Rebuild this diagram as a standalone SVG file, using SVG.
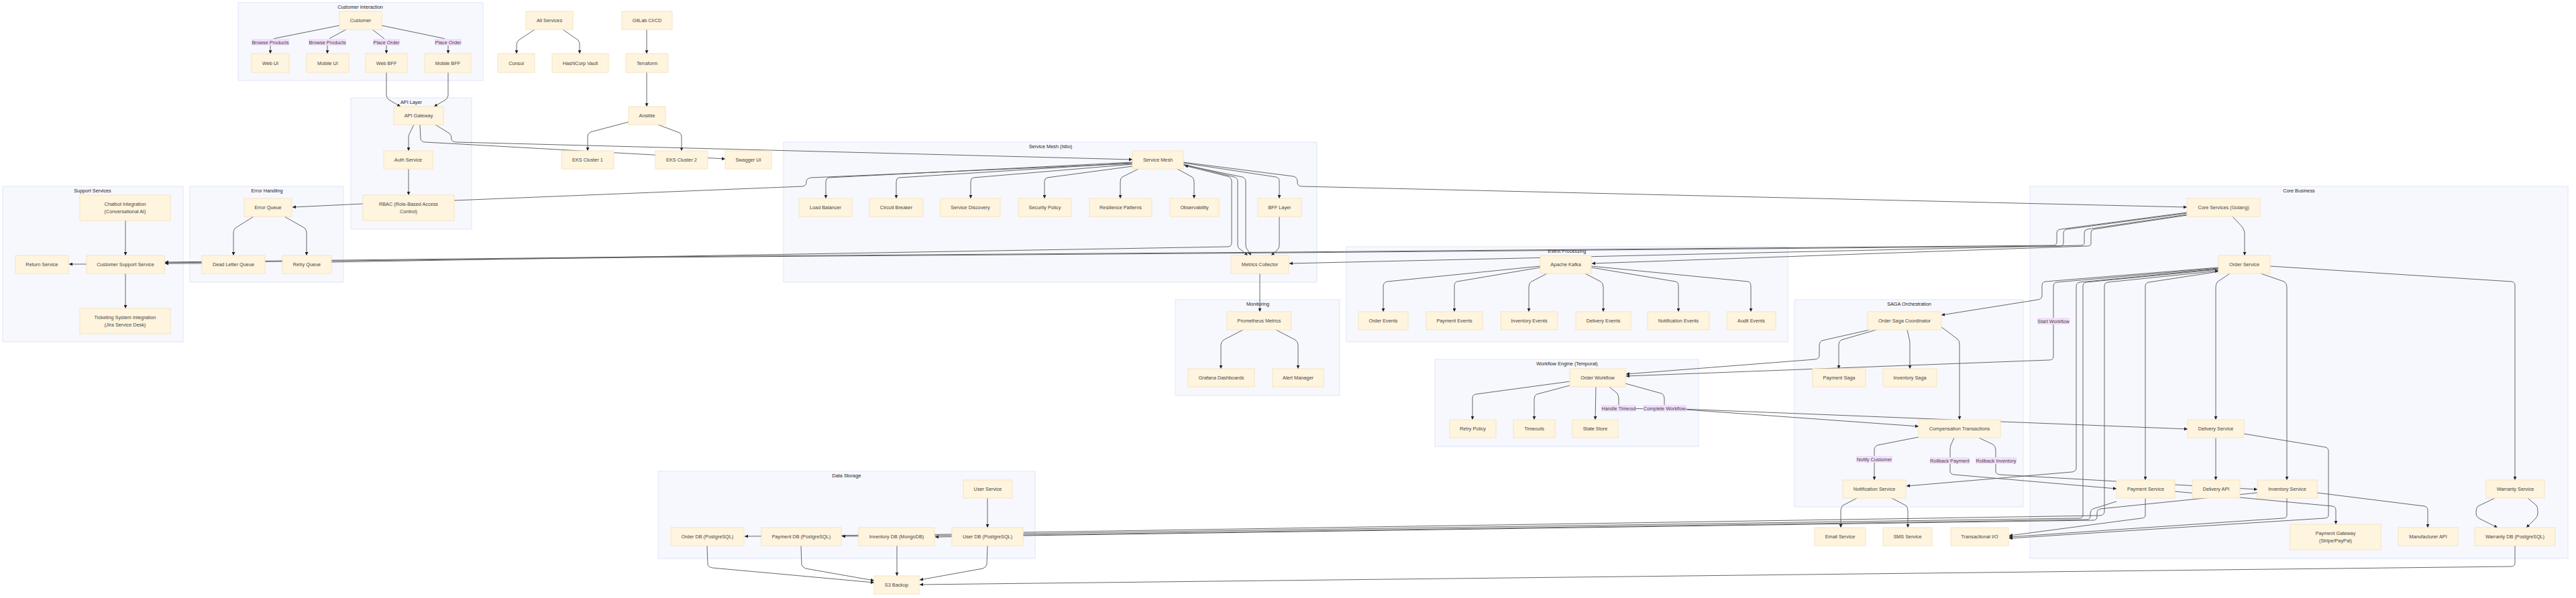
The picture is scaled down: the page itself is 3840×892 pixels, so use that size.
<svg xmlns="http://www.w3.org/2000/svg" width="3840" height="892" viewBox="0 0 3840 892">
<style>
.cl{fill:#f7f8fd;stroke:#dde6f8;stroke-width:1}
.ct{font-family:"Liberation Sans",Arial,sans-serif;font-size:7.3px;fill:#222;text-anchor:middle}
.nd rect{fill:#fff4de;stroke:#f4e4c0;stroke-width:1}
.nd text{font-family:"Liberation Sans",Arial,sans-serif;font-size:7.3px;fill:#444;text-anchor:middle}
.e{fill:none;stroke:#555;stroke-width:0.9}
.ea{fill:none;stroke:#555;stroke-width:0.9;marker-end:url(#ar)}
.lb rect{fill:#f2defb}
.lb text{font-family:"Liberation Sans",Arial,sans-serif;font-size:7.3px;fill:#444;text-anchor:middle}
</style>
<defs>
<marker id="ar" viewBox="0 0 10 10" refX="10" refY="5" markerWidth="5" markerHeight="5" markerUnits="userSpaceOnUse" orient="auto"><path d="M0,0 L10,5 L0,10 z" fill="#222"/></marker>
</defs>
<rect width="3840" height="892" fill="#ffffff"/>
<g id="clusters">
<rect class="cl" x="355" y="4" width="365" height="116"/><text class="ct" x="537" y="12.5">Customer Interaction</text>
<rect class="cl" x="523" y="146" width="180" height="196"/><text class="ct" x="613" y="154.5">API Layer</text>
<rect class="cl" x="4" y="278" width="269" height="232"/><text class="ct" x="138" y="286.5">Support Services</text>
<rect class="cl" x="283" y="278" width="229" height="143"/><text class="ct" x="398" y="286.5">Error Handling</text>
<rect class="cl" x="1168" y="212" width="795" height="209"/><text class="ct" x="1566" y="220.5">Service Mesh (Istio)</text>
<rect class="cl" x="2007" y="368" width="658" height="142"/><text class="ct" x="2336" y="376.5">Event Processing</text>
<rect class="cl" x="1752" y="447" width="245" height="143"/><text class="ct" x="1875" y="455.5">Monitoring</text>
<rect class="cl" x="981" y="703" width="562" height="130"/><text class="ct" x="1262" y="711.5">Data Storage</text>
<rect class="cl" x="2139" y="536" width="393" height="130"/><text class="ct" x="2336" y="544.5">Workflow Engine (Temporal)</text>
<rect class="cl" x="2675" y="447" width="341" height="309"/><text class="ct" x="2846" y="455.5">SAGA Orchestration</text>
<rect class="cl" x="3026" y="278" width="802" height="555"/><text class="ct" x="3427" y="286.5">Core Business</text>
</g>
<g id="connectors">
<path class="ea" d="M506 38 L411 57 Q403 59 403 65 L403 80"/>
<path class="ea" d="M516 44 L492 57 Q488 60 488 66 L488 80"/>
<path class="ea" d="M555 44 L572 57 Q576 60 576 66 L576 80"/>
<path class="ea" d="M569 38 L660 57 Q668 59 668 65 L668 80"/>
<path class="ea" d="M576 108 L576 142 Q576 146 580 149 L597 159"/>
<path class="ea" d="M668 108 L668 142 Q668 146 664 149 L647 159"/>
<path class="ea" d="M797 44 L773 60 Q770 63 770 67 L770 80"/>
<path class="ea" d="M839 44 L862 60 Q864 63 864 67 L864 80"/>
<path class="ea" d="M964 44 L964 80"/>
<path class="ea" d="M964 108 L964 159"/>
<path class="ea" d="M937 182 L880 197 Q876 199 876 204 L876 225"/>
<path class="ea" d="M981 186 L1013 198 Q1016 200 1016 205 L1016 225"/>
<path class="ea" d="M617 186 L610 200 Q609 202 609 206 L609 225"/>
<path class="ea" d="M609 252 L609 291"/>
<path class="ea" d="M626 186 L627 207 Q628 212 634 212 L1081 237"/>
<path class="ea" d="M649 186 L670 199 Q673 202 673 206 L673 208 Q674 212 680 212 L1688 238"/>
<path class="ea" d="M541 304 L436 309"/>
<path class="e" d="M677 299 L1196 278 Q1202 277 1202 272 L1202 270 Q1203 266 1209 265 L1688 244"/>
<path class="ea" d="M378 323 L351 340 Q348 343 348 347 L348 381"/>
<path class="ea" d="M424 323 L454 340 Q457 343 457 347 L457 381"/>
<path class="ea" d="M301 393 L246 393"/>
<path class="ea" d="M187 329 L187 381"/>
<path class="ea" d="M129 394 L103 394"/>
<path class="ea" d="M187 408 L187 460"/>
<path class="ea" d="M1688 242 L1235 265 Q1231 266 1231 271 L1231 296"/>
<path class="ea" d="M1688 243 L1340 265 Q1336 266 1336 271 L1336 296"/>
<path class="ea" d="M1688 245 L1451 265 Q1447 266 1447 271 L1447 296"/>
<path class="ea" d="M1688 248 L1561 265 Q1557 266 1557 271 L1557 296"/>
<path class="ea" d="M1697 252 L1673 264 Q1670 266 1670 271 L1670 296"/>
<path class="ea" d="M1755 252 L1777 264 Q1780 266 1780 271 L1780 296"/>
<path class="ea" d="M1764 243 L1902 264 Q1907 265 1907 270 L1907 296"/>
<path class="ea" d="M1764 245 L1840 264 Q1845 266 1845 271 L1845 366 Q1845 370 1849 372 L1860 381"/>
<path class="ea" d="M1764 246 L1852 264 Q1857 266 1857 271 L1857 366 Q1857 370 1860 373 L1865 381"/>
<path class="ea" d="M1907 323 L1907 366 Q1907 370 1904 373 L1895 381"/>
<path class="ea" d="M494 391 L1831 368 Q1836 367 1836 362 L1836 270 Q1836 265 1830 263 L1766 247"/>
<path class="ea" d="M1764 242 L1928 263 Q1934 265 1934 270 L1934 273 Q1935 278 1941 278 L3260 309"/>
<path class="ea" d="M1878 408 L1878 465"/>
<path class="ea" d="M1853 492 L1824 507 Q1820 510 1820 515 L1820 550"/>
<path class="ea" d="M1902 492 L1931 507 Q1935 510 1935 515 L1935 550"/>
<path class="ea" d="M3260 321 L3121 342 Q3117 343 3117 348 L3117 363 Q3117 367 3112 367 L2373 393"/>
<path class="ea" d="M3260 320 L3111 342 Q3107 343 3107 348 L3107 362 Q3107 366 3102 366 L1922 393"/>
<path class="ea" d="M3260 318 L3081 342 Q3076 343 3076 348 L3076 362 Q3076 367 3070 367 L1920 377 L960 384 L246 392"/>
<path class="ea" d="M3260 317 L3071 342 Q3066 343 3066 348 L3066 361 Q3066 366 3060 366 L1920 376 L960 383 L246 391"/>
<path class="ea" d="M2296 397 L2068 420 Q2062 421 2062 427 L2062 465"/>
<path class="ea" d="M2296 399 L2172 420 Q2168 421 2168 427 L2168 465"/>
<path class="ea" d="M2306 408 L2283 420 Q2279 422 2279 428 L2279 465"/>
<path class="ea" d="M2363 408 L2386 420 Q2390 422 2390 428 L2390 465"/>
<path class="ea" d="M2372 399 L2498 420 Q2502 421 2502 427 L2502 465"/>
<path class="ea" d="M2372 397 L2606 420 Q2610 421 2610 427 L2610 465"/>
<path class="ea" d="M2340 569 L2200 588 Q2195 589 2195 594 L2195 626"/>
<path class="ea" d="M2340 575 L2291 588 Q2287 590 2287 595 L2287 626"/>
<path class="ea" d="M2379 577 L2378 626"/>
<path class="ea" d="M2399 577 L2411 587 Q2413 590 2413 595 L2413 609 L2513 611 L2860 636"/>
<path class="ea" d="M2423 572 L2477 587 Q2481 589 2481 594 L2481 609 L3261 640"/>
<path class="ea" d="M2797 492 L2745 507 Q2741 509 2741 514 L2741 550"/>
<path class="ea" d="M2843 492 L2846 505 Q2847 509 2847 514 L2847 550"/>
<path class="ea" d="M2787 492 L2716 508 Q2712 510 2712 515 L2712 530 Q2712 535 2706 536 L2424 558"/>
<path class="ea" d="M2893 487 L2917 505 Q2921 508 2921 513 L2921 626"/>
<path class="ea" d="M2860 652 L2799 664 Q2794 666 2794 671 L2794 716"/>
<path class="ea" d="M2913 653 L2908 664 Q2907 667 2907 672 L2907 703 Q2907 707 2913 708 L3155 729"/>
<path class="ea" d="M2950 653 L2971 663 Q2975 666 2975 671 L2975 703 Q2975 707 2981 708 L3365 730"/>
<path class="ea" d="M2768 743 L2747 754 Q2744 757 2744 762 L2744 787"/>
<path class="ea" d="M2820 743 L2841 754 Q2844 757 2844 762 L2844 787"/>
<path class="ea" d="M3328 323 L3342 338 Q3346 343 3346 348 L3346 381"/>
<path class="ea" d="M3307 399 L3049 420 Q3044 421 3044 426 L3044 441 Q3044 446 3038 447 L2894 470"/>
<path class="ea" d="M3307 400 L3066 421 Q3061 422 3061 427 L3061 532 Q3061 537 3055 537 L2424 561"/>
<path class="ea" d="M3307 401 L3100 421 Q3095 422 3095 427 L3095 698 Q3095 703 3089 704 L2842 725"/>
<path class="ea" d="M3307 402 L3110 421 Q3105 422 3105 427 L3105 768 Q3105 773 3099 773 L1525 796 L1110 800"/>
<path class="ea" d="M1526 794 L3131 769 Q3137 768 3137 763 L3137 427 Q3137 422 3142 421 L3307 404"/>
<path class="ea" d="M3308 405 L3203 421 Q3198 422 3198 427 L3198 716"/>
<path class="ea" d="M3324 408 L3306 420 Q3303 423 3303 428 L3303 626"/>
<path class="ea" d="M3370 408 L3405 420 Q3409 423 3409 428 L3409 716"/>
<path class="ea" d="M3384 397 L3744 420 Q3749 421 3749 426 L3749 716"/>
<path class="ea" d="M3303 653 L3303 716"/>
<path class="ea" d="M3345 647 L3466 667 Q3471 668 3471 673 L3471 768 Q3471 773 3465 773 L2995 803"/>
<path class="ea" d="M3198 743 L3198 768 Q3198 773 3192 773 L2995 799"/>
<path class="ea" d="M3409 743 L3409 768 Q3409 773 3403 773 L2995 801"/>
<path class="ea" d="M3155 748 L3120 759 Q3116 761 3116 766 L3116 770 Q3116 775 3110 775 L1525 798 L1255 800"/>
<path class="ea" d="M3365 735 L3131 759 Q3126 760 3126 765 L3126 771 Q3126 776 3120 776 L1525 799 L1394 801"/>
<path class="ea" d="M3242 733 L3477 755 Q3482 756 3482 761 L3482 782"/>
<path class="ea" d="M3454 735 L3614 755 Q3619 756 3619 761 L3619 787"/>
<path class="ea" d="M3719 743 L3694 755 Q3691 758 3691 763 L3691 766 Q3691 770 3695 773 L3723 787"/>
<path class="ea" d="M3768 743 L3781 754 Q3783 757 3783 762 L3783 766 Q3783 770 3780 773 L3766 787"/>
<path class="ea" d="M3749 814 L3749 840 Q3749 845 3743 845 L1371 872"/>
<path class="ea" d="M1472 743 L1472 787"/>
<path class="ea" d="M1054 814 L1055 842 Q1056 846 1062 847 L1303 869"/>
<path class="ea" d="M1194 814 L1195 842 Q1196 846 1201 848 L1303 866"/>
<path class="ea" d="M1337 814 L1337 859"/>
<path class="ea" d="M1472 814 L1471 842 Q1470 846 1465 848 L1371 865"/>
</g>
<g id="n-customer" class="nd"><rect x="506" y="17" width="63" height="27"/><text x="537.5" y="33">Customer</text></g>
<g id="n-webui" class="nd"><rect x="375" y="80" width="56" height="28"/><text x="403" y="96.5">Web UI</text></g>
<g id="n-mobileui" class="nd"><rect x="457" y="80" width="63" height="28"/><text x="488.5" y="96.5">Mobile UI</text></g>
<g id="n-webbff" class="nd"><rect x="545" y="80" width="62" height="28"/><text x="576" y="96.5">Web BFF</text></g>
<g id="n-mobilebff" class="nd"><rect x="633" y="80" width="69" height="28"/><text x="667.5" y="96.5">Mobile BFF</text></g>
<g id="n-allservices" class="nd"><rect x="784" y="17" width="70" height="27"/><text x="819" y="33">All Services</text></g>
<g id="n-consul" class="nd"><rect x="742" y="80" width="55" height="28"/><text x="769.5" y="96.5">Consul</text></g>
<g id="n-vault" class="nd"><rect x="823" y="80" width="84" height="28"/><text x="865" y="96.5">HashiCorp Vault</text></g>
<g id="n-gitlab" class="nd"><rect x="927" y="17" width="75" height="27"/><text x="964.5" y="33">GitLab CI/CD</text></g>
<g id="n-terraform" class="nd"><rect x="933" y="80" width="63" height="28"/><text x="964.5" y="96.5">Terraform</text></g>
<g id="n-ansible" class="nd"><rect x="937" y="159" width="55" height="27"/><text x="964.5" y="175">Ansible</text></g>
<g id="n-apigw" class="nd"><rect x="587" y="159" width="74" height="27"/><text x="624" y="175">API Gateway</text></g>
<g id="n-auth" class="nd"><rect x="572" y="225" width="73" height="27"/><text x="608.5" y="241">Auth Service</text></g>
<g id="n-rbac" class="nd"><rect x="541" y="291" width="136" height="38"/><text x="609" y="306.8">RBAC (Role-Based Access</text><text x="609" y="317.8">Control)</text></g>
<g id="n-eks1" class="nd"><rect x="837" y="225" width="78" height="27"/><text x="876" y="241">EKS Cluster 1</text></g>
<g id="n-eks2" class="nd"><rect x="977" y="225" width="78" height="27"/><text x="1016" y="241">EKS Cluster 2</text></g>
<g id="n-swagger" class="nd"><rect x="1081" y="225" width="69" height="27"/><text x="1115.5" y="241">Swagger UI</text></g>
<g id="n-chatbot" class="nd"><rect x="119" y="291" width="135" height="38"/><text x="186.5" y="306.8">Chatbot Integration</text><text x="186.5" y="317.8">(Conversational AI)</text></g>
<g id="n-return" class="nd"><rect x="23" y="381" width="79" height="27"/><text x="62.5" y="397">Return Service</text></g>
<g id="n-css" class="nd"><rect x="129" y="381" width="116" height="27"/><text x="187" y="397">Customer Support Service</text></g>
<g id="n-ticketing" class="nd"><rect x="119" y="460" width="135" height="38"/><text x="186.5" y="476.2">Ticketing System Integration</text><text x="186.5" y="487.2">(Jira Service Desk)</text></g>
<g id="n-errorq" class="nd"><rect x="364" y="296" width="71" height="27"/><text x="399.5" y="312">Error Queue</text></g>
<g id="n-dlq" class="nd"><rect x="301" y="381" width="94" height="27"/><text x="348" y="397">Dead Letter Queue</text></g>
<g id="n-retryq" class="nd"><rect x="421" y="381" width="73" height="27"/><text x="457.5" y="397">Retry Queue</text></g>
<g id="n-servicemesh" class="nd"><rect x="1688" y="225" width="76" height="27"/><text x="1726" y="241">Service Mesh</text></g>
<g id="n-lb" class="nd"><rect x="1191" y="296" width="79" height="27"/><text x="1230.5" y="312">Load Balancer</text></g>
<g id="n-cb" class="nd"><rect x="1296" y="296" width="80" height="27"/><text x="1336" y="312">Circuit Breaker</text></g>
<g id="n-sd" class="nd"><rect x="1402" y="296" width="89" height="27"/><text x="1446.5" y="312">Service Discovery</text></g>
<g id="n-sp" class="nd"><rect x="1518" y="296" width="79" height="27"/><text x="1557.5" y="312">Security Policy</text></g>
<g id="n-rp" class="nd"><rect x="1624" y="296" width="93" height="27"/><text x="1670.5" y="312">Resilience Patterns</text></g>
<g id="n-obs" class="nd"><rect x="1744" y="296" width="73" height="27"/><text x="1780.5" y="312">Observability</text></g>
<g id="n-bff" class="nd"><rect x="1875" y="296" width="65" height="27"/><text x="1907.5" y="312">BFF Layer</text></g>
<g id="n-metrics" class="nd"><rect x="1835" y="381" width="86" height="27"/><text x="1878" y="397">Metrics Collector</text></g>
<g id="n-prom" class="nd"><rect x="1829" y="465" width="96" height="27"/><text x="1877" y="481">Prometheus Metrics</text></g>
<g id="n-grafana" class="nd"><rect x="1771" y="550" width="99" height="27"/><text x="1820.5" y="566">Grafana Dashboards</text></g>
<g id="n-alert" class="nd"><rect x="1897" y="550" width="76" height="27"/><text x="1935" y="566">Alert Manager</text></g>
<g id="n-kafka" class="nd"><rect x="2296" y="381" width="76" height="27"/><text x="2334" y="397">Apache Kafka</text></g>
<g id="n-orderevents" class="nd"><rect x="2025" y="465" width="74" height="27"/><text x="2062" y="481">Order Events</text></g>
<g id="n-paymentevents" class="nd"><rect x="2126" y="465" width="84" height="27"/><text x="2168" y="481">Payment Events</text></g>
<g id="n-inventoryevents" class="nd"><rect x="2237" y="465" width="85" height="27"/><text x="2279.5" y="481">Inventory Events</text></g>
<g id="n-deliveryevents" class="nd"><rect x="2349" y="465" width="82" height="27"/><text x="2390" y="481">Delivery Events</text></g>
<g id="n-notificationevents" class="nd"><rect x="2456" y="465" width="92" height="27"/><text x="2502" y="481">Notification Events</text></g>
<g id="n-auditevents" class="nd"><rect x="2574" y="465" width="73" height="27"/><text x="2610.5" y="481">Audit Events</text></g>
<g id="n-userservice" class="nd"><rect x="1436" y="716" width="73" height="27"/><text x="1472.5" y="732">User Service</text></g>
<g id="n-orderdb" class="nd"><rect x="1000" y="787" width="109" height="27"/><text x="1054.5" y="803">Order DB (PostgreSQL)</text></g>
<g id="n-paymentdb" class="nd"><rect x="1135" y="787" width="119" height="27"/><text x="1194.5" y="803">Payment DB (PostgreSQL)</text></g>
<g id="n-inventorydb" class="nd"><rect x="1280" y="787" width="113" height="27"/><text x="1336.5" y="803">Inventory DB (MongoDB)</text></g>
<g id="n-userdb" class="nd"><rect x="1419" y="787" width="106" height="27"/><text x="1472" y="803">User DB (PostgreSQL)</text></g>
<g id="n-s3" class="nd"><rect x="1303" y="859" width="67" height="27"/><text x="1336.5" y="875">S3 Backup</text></g>
<g id="n-orderworkflow" class="nd"><rect x="2340" y="550" width="83" height="27"/><text x="2381.5" y="566">Order Workflow</text></g>
<g id="n-retrypolicy" class="nd"><rect x="2161" y="626" width="69" height="27"/><text x="2195.5" y="642">Retry Policy</text></g>
<g id="n-timeouts" class="nd"><rect x="2256" y="626" width="62" height="27"/><text x="2287" y="642">Timeouts</text></g>
<g id="n-statestore" class="nd"><rect x="2344" y="626" width="68" height="27"/><text x="2378" y="642">State Store</text></g>
<g id="n-sagacoord" class="nd"><rect x="2784" y="465" width="110" height="27"/><text x="2839" y="481">Order Saga Coordinator</text></g>
<g id="n-paymentsaga" class="nd"><rect x="2702" y="550" width="79" height="27"/><text x="2741.5" y="566">Payment Saga</text></g>
<g id="n-inventorysaga" class="nd"><rect x="2807" y="550" width="80" height="27"/><text x="2847" y="566">Inventory Saga</text></g>
<g id="n-comptx" class="nd"><rect x="2860" y="626" width="122" height="27"/><text x="2921" y="642">Compensation Transactions</text></g>
<g id="n-notification" class="nd"><rect x="2747" y="716" width="94" height="27"/><text x="2794" y="732">Notification Service</text></g>
<g id="n-email" class="nd"><rect x="2705" y="787" width="76" height="27"/><text x="2743" y="803">Email Service</text></g>
<g id="n-sms" class="nd"><rect x="2807" y="787" width="73" height="27"/><text x="2843.5" y="803">SMS Service</text></g>
<g id="n-tio" class="nd"><rect x="2908" y="787" width="86" height="27"/><text x="2951" y="803">Transactional I/O</text></g>
<g id="n-coresvc" class="nd"><rect x="3260" y="296" width="109" height="27"/><text x="3314.5" y="312">Core Services (Golang)</text></g>
<g id="n-ordersvc" class="nd"><rect x="3307" y="381" width="77" height="27"/><text x="3345.5" y="397">Order Service</text></g>
<g id="n-deliverysvc" class="nd"><rect x="3261" y="626" width="84" height="27"/><text x="3303" y="642">Delivery Service</text></g>
<g id="n-paymentsvc" class="nd"><rect x="3155" y="716" width="87" height="27"/><text x="3198.5" y="732">Payment Service</text></g>
<g id="n-deliveryapi" class="nd"><rect x="3268" y="716" width="71" height="27"/><text x="3303.5" y="732">Delivery API</text></g>
<g id="n-inventorysvc" class="nd"><rect x="3365" y="716" width="89" height="27"/><text x="3409.5" y="732">Inventory Service</text></g>
<g id="n-warrantysvc" class="nd"><rect x="3706" y="716" width="87" height="27"/><text x="3749.5" y="732">Warranty Service</text></g>
<g id="n-paymentgw" class="nd"><rect x="3414" y="782" width="135" height="38"/><text x="3481.5" y="797.8">Payment Gateway</text><text x="3481.5" y="808.8">(Stripe/PayPal)</text></g>
<g id="n-manufacturer" class="nd"><rect x="3575" y="787" width="89" height="27"/><text x="3619.5" y="803">Manufacturer API</text></g>
<g id="n-warrantydb" class="nd"><rect x="3689" y="787" width="120" height="27"/><text x="3749" y="803">Warranty DB (PostgreSQL)</text></g>
<g id="edge-labels">
<g class="lb"><rect x="375" y="58" width="56" height="10"/><text x="403" y="65.6">Browse Products</text></g>
<g class="lb"><rect x="460" y="58" width="56" height="10"/><text x="488" y="65.6">Browse Products</text></g>
<g class="lb"><rect x="556" y="58" width="40" height="10"/><text x="576" y="65.6">Place Order</text></g>
<g class="lb"><rect x="648" y="58" width="40" height="10"/><text x="668" y="65.6">Place Order</text></g>
<g class="lb"><rect x="2387" y="604" width="52" height="10"/><text x="2413" y="611.6">Handle Timeout</text></g>
<g class="lb"><rect x="2449" y="604" width="65" height="10"/><text x="2481.5" y="611.6">Complete Workflow</text></g>
<g class="lb"><rect x="2767" y="680" width="54" height="10"/><text x="2794" y="687.6">Notify Customer</text></g>
<g class="lb"><rect x="2877" y="682" width="59" height="10"/><text x="2906.5" y="689.6">Rollback Payment</text></g>
<g class="lb"><rect x="2945" y="682" width="61" height="10"/><text x="2975.5" y="689.6">Rollback Inventory</text></g>
<g class="lb"><rect x="3037" y="474" width="48" height="10"/><text x="3061" y="481.6">Start Workflow</text></g>
</g>
</svg>
